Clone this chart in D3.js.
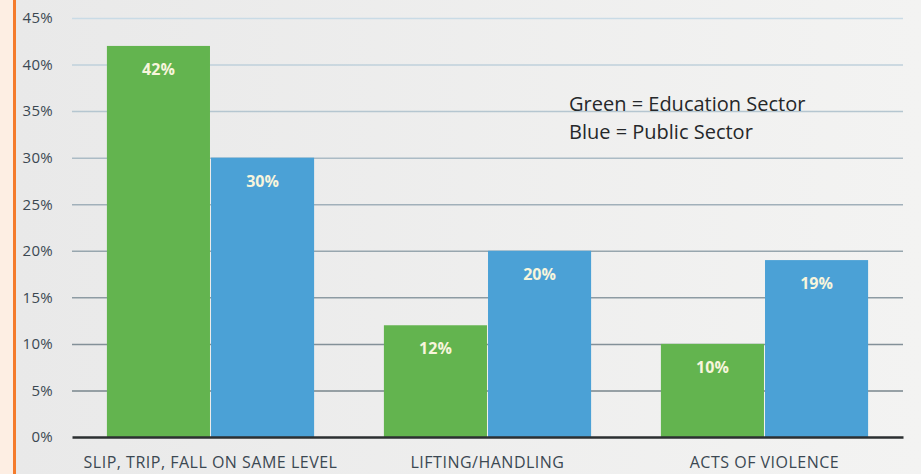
<!DOCTYPE html>
<html>
<head>
<meta charset="utf-8">
<script src="https://cdn.jsdelivr.net/npm/d3@7"></script>
<style>
  html, body { margin: 0; padding: 0; background: #fdeee3; }
  svg { display: block; }
  .tick-label { font-family: "Open Sans", sans-serif; font-size: 15px; letter-spacing: 0.3px; fill: #3b4852; }
  .cat-label { font-family: "Open Sans", sans-serif; font-size: 16px; letter-spacing: 0.5px; fill: #3b4852; }
  .value-label { font-family: "Open Sans", sans-serif; font-size: 16px; font-weight: bold; fill: #f7f5dc; }
  .legend { font-family: "Open Sans", sans-serif; font-size: 20px; fill: #25282a; }
</style>
</head>
<body>
<div id="chart"></div>
<script>
const categories = ['SLIP, TRIP, FALL ON SAME LEVEL', 'LIFTING/HANDLING', 'ACTS OF VIOLENCE'];
const series = ['Education Sector', 'Public Sector'];
const educationValues = [42, 12, 10];
const publicValues = [30, 20, 19];
const yTicks = [0, 5, 10, 15, 20, 25, 30, 35, 40, 45];
const legendLines = ['Green = Education Sector', 'Blue = Public Sector'];

const width = 921;
const height = 474;
const margin = { top: 18, right: 18, bottom: 37, left: 72 };
const innerWidth = width - margin.left - margin.right;
const innerHeight = height - margin.top - margin.bottom;
const colors = { 'Education Sector': '#63b44f', 'Public Sector': '#4ba1d6' };

const rows = categories.map((cat, i) => ({
  category: cat,
  values: [
    { key: 'Education Sector', value: educationValues[i] },
    { key: 'Public Sector', value: publicValues[i] },
  ],
}));

const svg = d3.select('#chart')
  .append('svg')
  .attr('width', width)
  .attr('height', height);

const defs = svg.append('defs');
const bg = defs.append('linearGradient').attr('id', 'bg').attr('x1', 0).attr('x2', 1).attr('y1', 0).attr('y2', 0);
bg.append('stop').attr('offset', '0%').attr('stop-color', '#e9e9e9');
bg.append('stop').attr('offset', '100%').attr('stop-color', '#f3f3f2');

svg.append('rect')
  .attr('x', 0).attr('y', 0)
  .attr('width', 15).attr('height', height)
  .attr('fill', '#fdeee3');

svg.append('rect')
  .attr('x', 15).attr('y', 0)
  .attr('width', width - 15).attr('height', height)
  .attr('fill', 'url(#bg)');

svg.append('rect')
  .attr('x', 13).attr('y', 0)
  .attr('width', 3).attr('height', height)
  .attr('fill', '#f47b2c');

const chart = svg.append('g')
  .attr('transform', `translate(${margin.left},${margin.top})`);

const x0 = d3.scaleBand()
  .domain(categories)
  .range([0, innerWidth])
  .padding(0);

const x1 = d3.scaleBand()
  .domain(series)
  .range([x0.bandwidth() * 0.126, x0.bandwidth() * 0.874])
  .paddingInner(0.01);

const y = d3.scaleLinear()
  .domain([0, 45])
  .range([innerHeight, 0]);

const gridColor = d3.scaleLinear().domain([0, 45]).range(['#6f7b82', '#c9dbe6']);

const grid = chart.append('g')
  .call(d3.axisLeft(y).tickValues(yTicks.filter((t) => t > 0)).tickSize(-innerWidth).tickFormat(() => ''));
grid.select('.domain').remove();
grid.selectAll('.tick line')
  .attr('stroke', (d) => gridColor(d))
  .attr('stroke-width', 1.5);

const yAxis = chart.append('g')
  .call(d3.axisLeft(y).tickValues(yTicks).tickSize(0).tickPadding(19).tickFormat((d) => d + '%'));
yAxis.select('.domain').remove();
yAxis.selectAll('text')
  .attr('class', 'tick-label')
  .attr('font-family', null)
  .attr('font-size', null)
  .attr('fill', null);

const groups = chart.selectAll('.group')
  .data(rows)
  .enter()
  .append('g')
  .attr('class', 'group')
  .attr('transform', (d) => `translate(${x0(d.category)},0)`);

groups.selectAll('rect')
  .data((d) => d.values)
  .enter()
  .append('rect')
  .attr('x', (d) => x1(d.key))
  .attr('y', (d) => y(d.value))
  .attr('width', x1.bandwidth())
  .attr('height', (d) => innerHeight - y(d.value))
  .attr('fill', (d) => colors[d.key]);

groups.selectAll('.value-label')
  .data((d) => d.values)
  .enter()
  .append('text')
  .attr('class', 'value-label')
  .attr('x', (d) => x1(d.key) + x1.bandwidth() / 2)
  .attr('y', (d) => y(d.value) + 29)
  .attr('text-anchor', 'middle')
  .text((d) => d.value + '%');

const xAxis = chart.append('g')
  .attr('transform', `translate(0,${innerHeight})`)
  .call(d3.axisBottom(x0).tickSize(0).tickPadding(20));
xAxis.select('.domain')
  .attr('stroke', '#2b2f31')
  .attr('stroke-width', 2.5);
xAxis.selectAll('text')
  .attr('class', 'cat-label')
  .attr('font-family', null)
  .attr('font-size', null)
  .attr('fill', null);

const legend = svg.append('g')
  .attr('transform', 'translate(569,111)');
legend.selectAll('text')
  .data(legendLines)
  .enter()
  .append('text')
  .attr('class', 'legend')
  .attr('y', (d, i) => i * 28)
  .text((d) => d);
</script>
</body>
</html>
